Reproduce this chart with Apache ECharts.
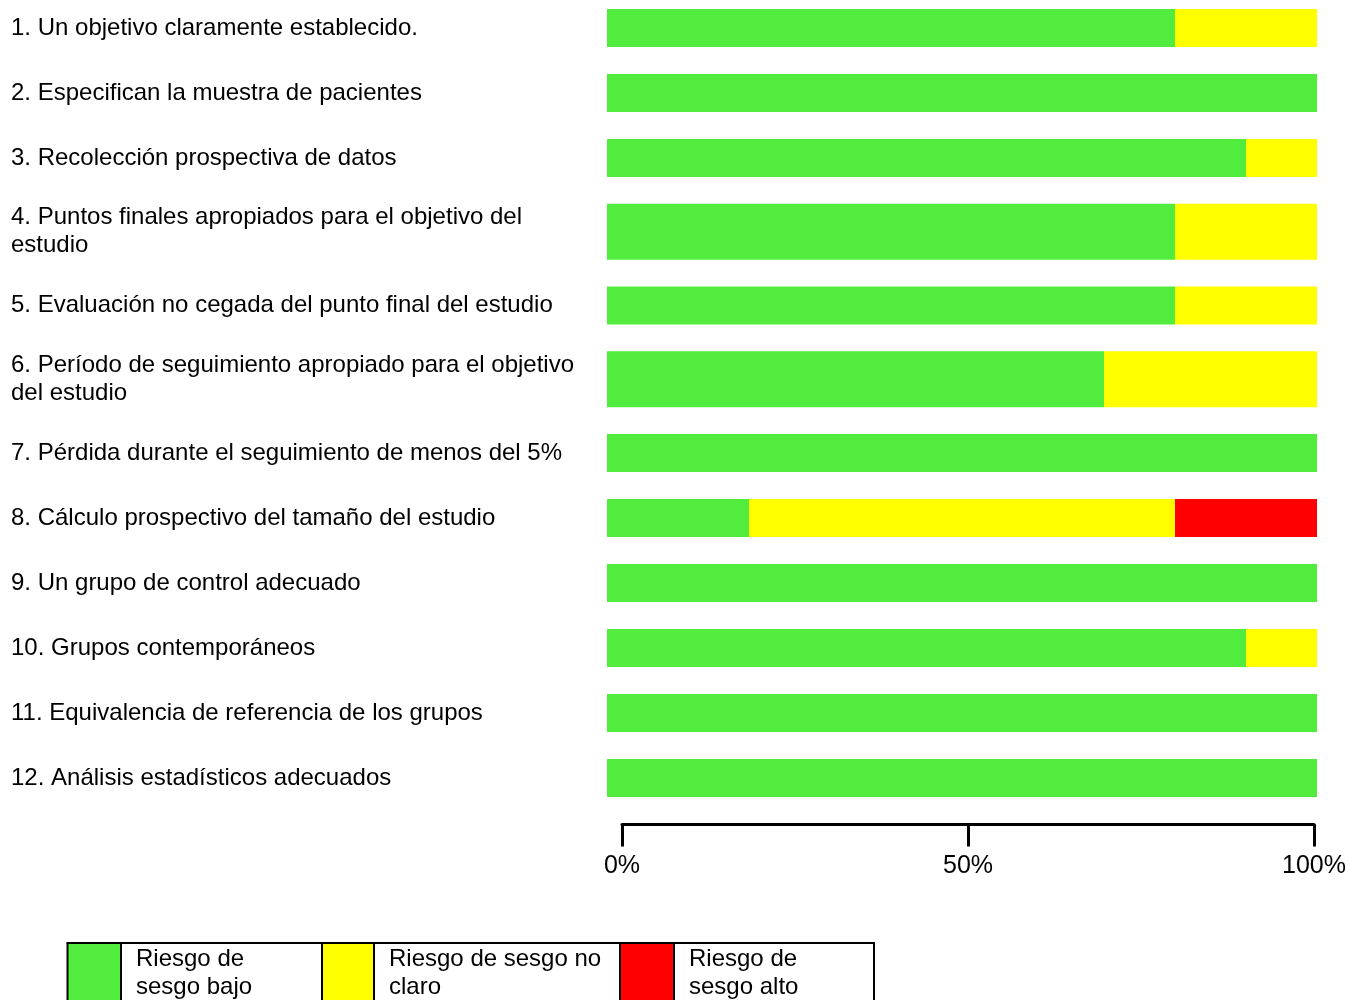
<!DOCTYPE html>
<html>
<head>
<meta charset="utf-8">
<script src="https://cdn.jsdelivr.net/npm/echarts@6/dist/echarts.min.js"></script>
<style>
html,body{margin:0;padding:0;background:#fff;}
#main{width:1350px;height:1000px;}
</style>
</head>
<body>
<div id="main"></div>
<script>
// ---- data ----
const categories = [
  '1. Un objetivo claramente establecido.',
  '2. Especifican la muestra de pacientes',
  '3. Recolección prospectiva de datos',
  '4. Puntos finales apropiados para el objetivo del\nestudio',
  '5. Evaluación no cegada del punto final del estudio',
  '6. Período de seguimiento apropiado para el objetivo\ndel estudio',
  '7. Pérdida durante el seguimiento de menos del 5%',
  '8. Cálculo prospectivo del tamaño del estudio',
  '9. Un grupo de control adecuado',
  '10. Grupos contemporáneos',
  '11. Equivalencia de referencia de los grupos',
  '12. Análisis estadísticos adecuados'
];
const lowRisk     = [80, 100, 90, 80, 80, 70, 100, 20, 100, 90, 100, 100];
const unclearRisk = [20,   0, 10, 20, 20, 30,   0, 60,   0, 10,   0,   0];
const highRisk    = [ 0,   0,  0,  0,  0,  0,   0, 20,   0,  0,   0,   0];
const riskNames = ['Riesgo de\nsesgo bajo', 'Riesgo de sesgo no\nclaro', 'Riesgo de\nsesgo alto'];
const axisTicks = [0, 50, 100];
const axisTickLabels = ['0%', '50%', '100%'];

// ---- styles ----
const FONT = "'Liberation Sans', Arial, sans-serif";
const colors = ['#52EC3E', '#FFFF00', '#FF0000'];
const seriesValues = [lowRisk, unclearRisk, highRisk];

const grids = [], xAxes = [], yAxes = [], series = [];
let yPos = 28 - 32.5;
categories.forEach((cat, i) => {
  const lines = cat.split('\n').length;
  const slot = 65 + 17.5 * (lines - 1);
  const thick = 38 + 18 * (lines - 1);
  const center = yPos + slot / 2;
  yPos += slot;
  grids.push({left: 607, width: 710, top: center - thick / 2, height: thick, containLabel: false, outerBoundsMode: 'none'});
  xAxes.push({type: 'value', gridIndex: i, min: 0, max: 100, show: false});
  yAxes.push({
    type: 'category', gridIndex: i, data: [cat], inverse: true,
    axisLine: {show: false}, axisTick: {show: false}, splitLine: {show: false},
    axisLabel: {align: 'left', verticalAlign: 'middle', margin: 596, fontSize: 24, lineHeight: 28,
      padding: [3, 0, 0, 0], color: '#000', fontFamily: FONT, interval: 0}
  });
  seriesValues.forEach((vals, k) => {
    series.push({
      type: 'bar', name: riskNames[k], xAxisIndex: i, yAxisIndex: i, stack: 'row' + i,
      barWidth: thick, data: [vals[i]], itemStyle: {color: colors[k]},
      emphasis: {disabled: true}, silent: true
    });
  });
});

// visible percentage axis
const ai = categories.length;
grids.push({left: 622, width: 692, top: 800, height: 24.5, containLabel: false, outerBoundsMode: 'none'});
xAxes.push({
  type: 'value', gridIndex: ai, min: axisTicks[0], max: axisTicks[axisTicks.length - 1],
  interval: axisTicks[1] - axisTicks[0], position: 'bottom',
  axisLine: {show: true, onZero: false, lineStyle: {color: '#000', width: 3}},
  axisTick: {show: true, length: 22, lineStyle: {color: '#000', width: 3}},
  splitLine: {show: false},
  axisLabel: {fontSize: 25, margin: 29, color: '#000', fontFamily: FONT,
    formatter: v => axisTickLabels[axisTicks.indexOf(v)]}
});
yAxes.push({type: 'value', gridIndex: ai, show: false, min: 0, max: 1});

// legend cells
const legendCells = [{left: 67, width: 54}, {left: 322, width: 52}, {left: 620, width: 54}];
const legends = riskNames.map((n, k) => ({
  data: [n], left: legendCells[k].left, top: 943, padding: 0, icon: 'rect',
  itemWidth: legendCells[k].width, itemHeight: 60, selectedMode: false,
  textStyle: {fontSize: 24, lineHeight: 28, color: '#000', fontFamily: FONT, padding: [2, 0, 0, 10]}
}));
const borderXs = [67.5, 121, 322, 374, 620, 674, 874];
const graphics = borderXs.map(x => ({
  type: 'line', shape: {x1: x, y1: 943, x2: x, y2: 1010}, style: {stroke: '#000', lineWidth: 2}, z: 100
}));
graphics.push({type: 'line', shape: {x1: 66.5, y1: 943, x2: 875, y2: 943}, style: {stroke: '#000', lineWidth: 2}, z: 100});

const chart = echarts.init(document.getElementById('main'), null, {renderer: 'canvas'});
chart.setOption({
  animation: false,
  backgroundColor: '#fff',
  grid: grids, xAxis: xAxes, yAxis: yAxes, series: series,
  legend: legends,
  graphic: graphics
});
</script>
</body>
</html>
